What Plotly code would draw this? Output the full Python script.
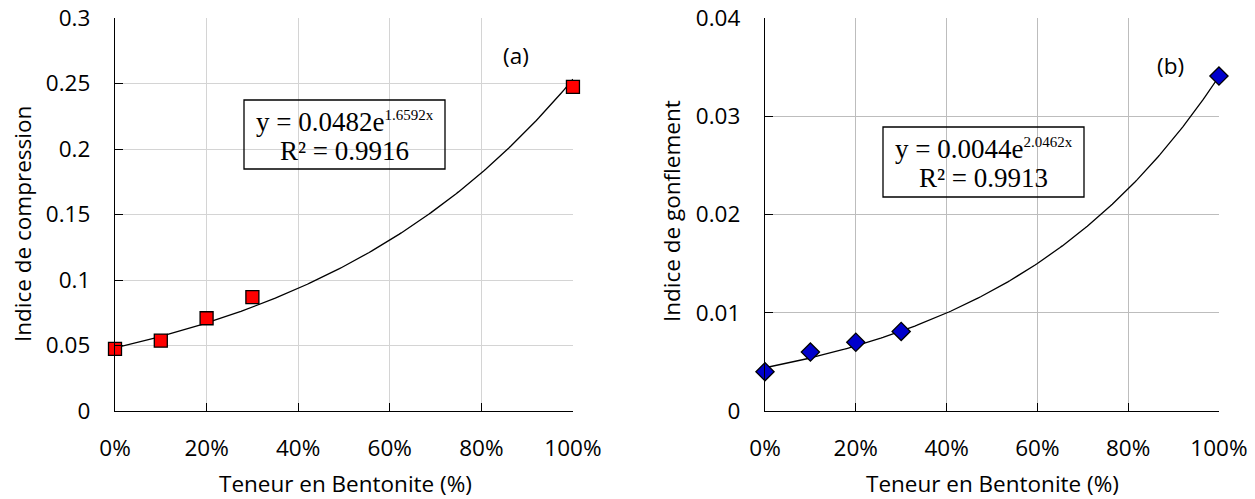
import numpy as np
import plotly.graph_objects as go

# ---- data ----
bentonite = [0.0, 0.10, 0.20, 0.30, 1.00]
cc_values = [0.0475, 0.0537, 0.0708, 0.087, 0.2475]       # Indice de compression
cs_values = [0.0040, 0.0060, 0.0070, 0.0081, 0.0341]      # Indice de gonflement

# exponential trend lines  y = a * exp(b x)
trend_a = [0.0482, 0.0044]
trend_b = [1.6592, 2.0462]
trend_r2 = [0.9916, 0.9913]

x_ticks = [0, 0.2, 0.4, 0.6, 0.8, 1.0]
y_ticks_a = [0, 0.05, 0.1, 0.15, 0.2, 0.25, 0.3]
y_ticks_b = [0, 0.01, 0.02, 0.03, 0.04]

xs = np.linspace(0, 1, 201)

FONT = "Open Sans"
FS = 22.5
SERIF = "Liberation Serif"
W, H = 1255, 499


def px(x):
    return x / W


def py(y):
    return 1 - y / H


fig = go.Figure()

# trend lines
fig.add_trace(go.Scatter(x=xs, y=trend_a[0] * np.exp(trend_b[0] * xs), mode="lines",
                         line=dict(color="black", width=1.3), xaxis="x", yaxis="y",
                         hoverinfo="skip", showlegend=False))
fig.add_trace(go.Scatter(x=xs, y=trend_a[1] * np.exp(trend_b[1] * xs), mode="lines",
                         line=dict(color="black", width=1.3), xaxis="x2", yaxis="y2",
                         hoverinfo="skip", showlegend=False))

# markers
fig.add_trace(go.Scatter(x=bentonite, y=cc_values, mode="markers", cliponaxis=False,
                         marker=dict(symbol="square", size=13, color="#ff0000",
                                     line=dict(color="black", width=1.3)),
                         xaxis="x", yaxis="y", showlegend=False))
fig.add_trace(go.Scatter(x=bentonite, y=cs_values, mode="markers", cliponaxis=False,
                         marker=dict(symbol="diamond", size=14, color="#0000cc",
                                     line=dict(color="black", width=1.3)),
                         xaxis="x2", yaxis="y2", showlegend=False))

y0 = py(411)
y1 = py(18)

xcommon = dict(range=[0, 1.0001], tickvals=x_ticks, tickformat=".0%", ticks="inside", ticklen=8,
               tickcolor="black", tickwidth=1.3, showline=True, linecolor="black", linewidth=1.3,
               showgrid=True, zeroline=False, automargin=False, ticklabelstandoff=17,
               ticklabeloverflow="allow",
               tickfont=dict(family=FONT, size=FS, color="black"))
ycommon = dict(ticks="inside", ticklen=8, tickcolor="black", tickwidth=1.3, showline=True,
               linecolor="black", linewidth=1.3, showgrid=True, zeroline=False, automargin=False,
               ticklabelstandoff=19, ticklabeloverflow="allow",
               tickfont=dict(family=FONT, size=FS, color="black"))

fig.update_layout(
    width=W, height=H,
    margin=dict(l=0, r=0, t=0, b=0),
    paper_bgcolor="white", plot_bgcolor="white",
    xaxis=dict(**xcommon, domain=[px(115), px(573)], anchor="y", gridcolor="#d4d4d4"),
    yaxis=dict(**ycommon, domain=[y0, y1], anchor="x", range=[0, 0.30005], tickvals=y_ticks_a,
               gridcolor="#d4d4d4"),
    xaxis2=dict(**xcommon, domain=[px(765), px(1219)], anchor="y2", gridcolor="#bdbdbd"),
    yaxis2=dict(**ycommon, domain=[y0, y1], anchor="x2", range=[0, 0.040007], tickvals=y_ticks_b,
                gridcolor="#bdbdbd"),
)

# axis titles
title_font = dict(family=FONT, size=FS, color="black")
for (xc, yc, txt, ang) in [
    (345, 483, "Teneur en Bentonite (%)", 0),
    (992, 483, "Teneur en Bentonite (%)", 0),
    (22, 224, "Indice de compression", -90),
    (671, 211, "Indice de gonflement", -90),
]:
    fig.add_annotation(x=px(xc), y=py(yc), xref="paper", yref="paper", text=txt, textangle=ang,
                       showarrow=False, xanchor="center", yanchor="middle", font=title_font,
                       borderpad=0)

# equation boxes
boxes = [(244, 100, 445, 169), (883, 127, 1084, 197)]
line1_y = [122, 149]
line2_y = [151, 178]
for i, (bx0, by0, bx1, by1) in enumerate(boxes):
    fig.add_shape(type="rect", xref="paper", yref="paper",
                  x0=px(bx0), x1=px(bx1), y0=py(by1), y1=py(by0),
                  line=dict(color="black", width=1.3), fillcolor="rgba(0,0,0,0)")
    cx = (bx0 + bx1) / 2
    fig.add_annotation(x=px(cx), y=py(line1_y[i]), xref="paper", yref="paper",
                       text=f"y = {trend_a[i]}e<sup><span style='font-size:15px'>{trend_b[i]}x</span></sup>",
                       showarrow=False, xanchor="center", yanchor="middle",
                       font=dict(family=SERIF, size=27, color="black"))
    fig.add_annotation(x=px(cx), y=py(line2_y[i]), xref="paper", yref="paper",
                       text=f"R² = {trend_r2[i]}",
                       showarrow=False, xanchor="center", yanchor="middle",
                       font=dict(family=SERIF, size=27, color="black"))

fig.add_annotation(x=px(516), y=py(55), xref="paper", yref="paper", text="(a)",
                   showarrow=False, xanchor="center", yanchor="middle", font=title_font)
fig.add_annotation(x=px(1170), y=py(65), xref="paper", yref="paper", text="(b)",
                   showarrow=False, xanchor="center", yanchor="middle", font=title_font)

fig.write_html("out.html", config={"displayModeBar": False},
               post_script="document.body.style.margin='0px';")
